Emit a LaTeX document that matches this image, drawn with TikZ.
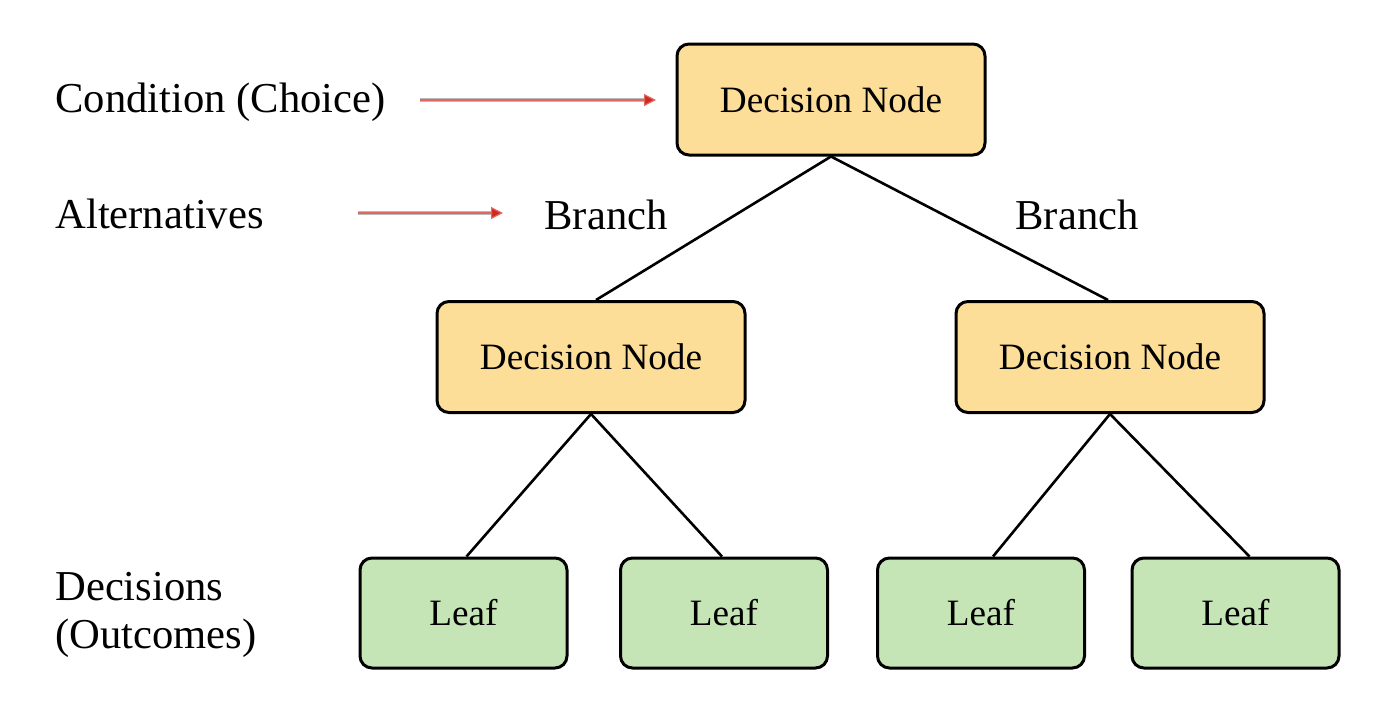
\documentclass[tikz,border=0pt]{standalone}
\usepackage{fontspec}
\setmainfont{Liberation Serif}
\usetikzlibrary{arrows.meta,calc}
\definecolor{nodeyellow}{RGB}{253,222,152}
\definecolor{leafgreen}{RGB}{198,229,183}
\definecolor{arrowred}{RGB}{210,40,30}
\tikzset{
  decbox/.style={draw=black, line width=1.5pt, rounded corners=6pt, fill=nodeyellow,
    minimum width=154pt, minimum height=55.5pt, inner sep=0pt,
    font=\fontsize{18.6}{22}\selectfont},
  leafbox/.style={draw=black, line width=1.5pt, rounded corners=6pt, fill=leafgreen,
    minimum width=103.5pt, minimum height=55pt, inner sep=0pt,
    font=\fontsize{18.6}{22}\selectfont},
  lbl/.style={inner sep=0pt, font=\fontsize{21.3}{24}\selectfont},
  edge/.style={draw=black, line width=1.3pt},
  pointerbase/.style={draw=gray!55, line width=2pt},
  pointer/.style={draw=arrowred!70, line width=0.6pt, -{Triangle[length=6pt,width=6pt,fill=arrowred]}}
}
\begin{document}
\begin{tikzpicture}[x=0.5pt,y=-0.5pt]
\useasboundingbox (0,0) rectangle (1390,718);
% boxes
\node[decbox] (top) at (831,99.5) {Decision Node};
\node[decbox] (midL) at (591,357) {Decision Node};
\node[decbox] (midR) at (1110,357) {Decision Node};
\node[leafbox] (l1) at (463.5,613) {Leaf};
\node[leafbox] (l2) at (724,613) {Leaf};
\node[leafbox] (l3) at (981,613) {Leaf};
\node[leafbox] (l4) at (1235.5,613) {Leaf};
% edges
\draw[edge] (top.south) -- ($(midL.north)+(5,0)$);
\draw[edge] (top.south) -- ($(midR.north)+(-2,0)$);
\draw[edge] (midL.south) -- ($(l1.north)+(3,0)$);
\draw[edge] (midL.south) -- ($(l2.north)+(-2,0)$);
\draw[edge] (midR.south) -- ($(l3.north)+(12,0)$);
\draw[edge] (midR.south) -- ($(l4.north)+(14,0)$);
% labels
\node[lbl, anchor=west] (cond) at (55,102) {Condition (Choice)};
\node[lbl, anchor=west] (alt) at (55,214) {Alternatives};
\node[lbl] (br1) at (606,215) {Branch};
\node[lbl] (br2) at (1077,215) {Branch};
\node[lbl, anchor=west, align=left] (dec) at (55,615) {Decisions\\(Outcomes)};
% pointers
\coordinate (p1s) at (420,100);
\coordinate (p1e) at (656,100);
\coordinate (p2s) at (358,213);
\coordinate (p2e) at (503,213);
\draw[pointerbase] (p1s) -- ($(p1e)+(-10,0)$);
\draw[pointer] (p1s) -- (p1e);
\draw[pointerbase] (p2s) -- ($(p2e)+(-10,0)$);
\draw[pointer] (p2s) -- (p2e);
\end{tikzpicture}
\end{document}
